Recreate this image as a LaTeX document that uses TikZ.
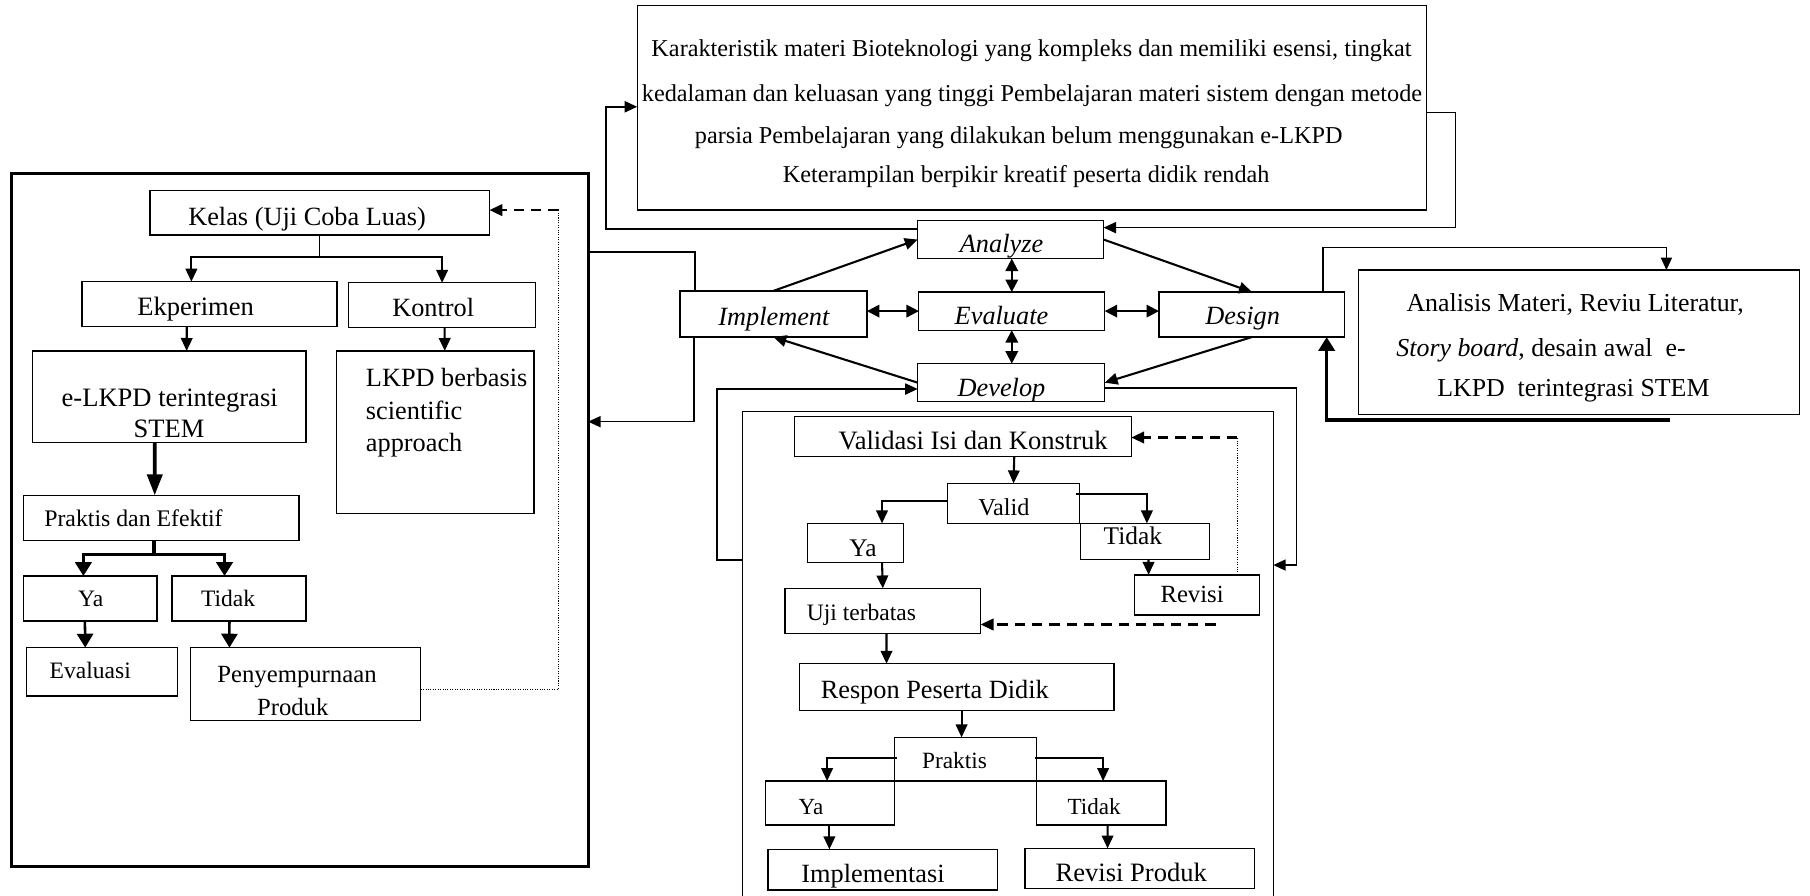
\documentclass[tikz,border=0pt]{standalone}
\usepackage{fontspec}
\setmainfont{Liberation Serif}
\usetikzlibrary{arrows.meta}
\newcommand\fsz[1]{\fontsize{#1pt}{#1pt}\selectfont}
\tikzset{
  box/.style={draw, line width=0.55pt, inner sep=0pt, outer sep=0pt},
  at box/.style n args={4}{minimum width={(#3-#1)*0.5pt}, minimum height={(#4-#2)*0.5pt}, at={({(#1+#3)/2},{(#2+#4)/2})}},
  tx/.style={inner sep=0pt, anchor=base},
  txl/.style={inner sep=0pt, anchor=base west},
  arr/.style={line width=0.9pt, -{Triangle[length=5.6pt,width=5pt]}},
  arrthin/.style={line width=0.65pt, -{Triangle[length=5.4pt,width=4.8pt]}},
  arrthick/.style={line width=1.5pt, -{Triangle[length=6pt,width=7pt]}},
  arrbig/.style={line width=1.6pt, -{Triangle[length=9pt,width=6.5pt]}},
  darr/.style={line width=0.9pt, {Triangle[length=5.4pt,width=5.4pt]}-{Triangle[length=5.4pt,width=5.4pt]}},
  thinln/.style={line width=0.55pt},
  medln/.style={line width=0.8pt},
  dotln/.style={line width=0.45pt, dash pattern=on 0.45pt off 0.6pt},
  dasharr/.style={line width=1pt, dash pattern=on 4.5pt off 3pt, -{Triangle[length=5.6pt,width=5pt]}},
}
\begin{document}
\begin{tikzpicture}[x=0.5pt,y=-0.5pt]
\useasboundingbox (0,0) rectangle (1568,776);
\fill[white] (0,0) rectangle (1568,776);
\clip (0,0) rectangle (1568,776);

% ---------------- left block ----------------
\node[box, line width=1.25pt, at box={10}{150}{509.5}{751}] (bigL) {};
\node[box, at box={130}{165}{424}{203.5}] (kelas) {};
\node[tx, font=\fsz{11.4}] (kelasT) at (266,195) {Kelas (Uji Coba Luas)};
\node[box, at box={71}{244}{292}{283}] (eksp) {};
\node[tx, font=\fsz{11.5}] (ekspT) at (169.5,273) {Ekperimen};
\node[box, at box={302}{245}{464}{284}] (kont) {};
\node[tx, font=\fsz{11.4}] (kontT) at (375.3,274.3) {Kontrol};
\node[box, at box={28}{304}{265}{383.5}] (elkpd) {};
\node[tx, font=\fsz{11.5}] (elkpdA) at (147,352.3) {e-LKPD terintegrasi};
\node[tx, font=\fsz{11.5}] (elkpdB) at (146.5,379.2) {STEM};
\node[box, at box={291.5}{304}{462.5}{445}] (lkpdb) {};
\node[txl, font=\fsz{11.4}] (lkpdbA) at (316.6,335) {LKPD berbasis};
\node[txl, font=\fsz{11.4}] (lkpdbB) at (316.6,363) {scientific};
\node[txl, font=\fsz{11.4}] (lkpdbC) at (316.6,391.3) {approach};
\node[box, at box={20.5}{429}{259}{468}] (prakef) {};
\node[txl, font=\fsz{10.3}] (prakefT) at (38,456.3) {Praktis dan Efektif};
\node[box, at box={20.5}{499}{136}{538}] (yaL) {};
\node[tx, font=\fsz{10.2}] (yaLT) at (78.6,525.6) {Ya};
\node[box, at box={149}{499}{265}{538}] (tidakL) {};
\node[tx, font=\fsz{10.2}] (tidakLT) at (197.6,525.6) {Tidak};
\node[box, at box={23}{561}{153.5}{603}] (evalu) {};
\node[tx, font=\fsz{10.2}] (evaluT) at (78.2,588.2) {Evaluasi};
\node[box, at box={165}{561}{364.5}{624}] (peny) {};
\node[tx, font=\fsz{10.7}] (penyA) at (257.3,591.1) {Penyempurnaan};
\node[tx, font=\fsz{10.7}] (penyB) at (253.6,619.4) {Produk};

% ---------------- centre ----------------
\node[box, at box={552}{5}{1236}{182}] (topbox) {};
\node[tx, font=\fsz{10.5}] (top1) at (893.6,49.1) {Karakteristik materi Bioteknologi yang kompleks dan memiliki esensi, tingkat};
\node[tx, font=\fsz{10.5}] (top2) at (894,88.1) {kedalaman dan keluasan yang tinggi Pembelajaran materi sistem dengan metode};
\node[tx, font=\fsz{10.5}] (top3) at (882.5,124.2) {parsia Pembelajaran yang dilakukan belum menggunakan e-LKPD};
\node[tx, font=\fsz{10.5}] (top4) at (889,158.3) {Keterampilan berpikir kreatif peserta didik rendah};

\node[box, at box={795}{191}{956}{224}] (analyze) {};
\node[tx, font=\fsz{11.4}\itshape] (analyzeT) at (867.6,219) {Analyze};
\node[box, at box={589}{252}{751}{292}] (impl) {};
\node[tx, font=\fsz{11.4}\itshape] (implT) at (670.4,281.6) {Implement};
\node[box, at box={796}{253}{957}{286}] (evaluate) {};
\node[tx, font=\fsz{11.4}\itshape] (evaluateT) at (867.6,281) {Evaluate};
\node[box, at box={1004}{253}{1165}{292}] (design) {};
\node[tx, font=\fsz{11.4}\itshape] (designT) at (1076.5,281) {Design};
\node[box, at box={795}{315}{957}{348}] (develop) {};
\node[tx, font=\fsz{11.4}\itshape] (developT) at (867.6,343.7) {Develop};

\node[box, at box={1177}{234}{1559}{359}] (rbox) {};
\node[tx, font=\fsz{11.2}] (rbox1) at (1364.5,270) {Analisis Materi, Reviu Literatur,};
\node[tx, font=\fsz{11.2}] (rbox2) at (1335,309) {\textit{Story board}, desain awal\ \ e-};
\node[tx, font=\fsz{11.2}] (rbox3) at (1363,343.6) {LKPD\ \ terintegrasi STEM};

% ---------------- develop block ----------------
\node[box, at box={643.5}{356.5}{1103}{800}] (devbox) {};
\node[box, at box={688.5}{360.5}{980}{395.5}] (validasi) {};
\node[tx, font=\fsz{11.5}] (validasiT) at (843,389.8) {Validasi Isi dan Konstruk};
\node[box, at box={821}{418.7}{935}{453.4}] (valid) {};
\node[tx, font=\fsz{10.5}] (validT) at (869.7,446.2) {Valid};
\node[box, at box={699.5}{453.4}{782.7}{487}] (yaD) {};
\node[tx, font=\fsz{11}] (yaDT) at (747.6,482.3) {Ya};
\node[box, at box={936}{453.4}{1047.5}{485}] (tidakD) {};
\node[tx, font=\fsz{11}] (tidakDT) at (981.4,472.1) {Tidak};
\node[box, at box={983}{498}{1091}{532.8}] (revisi) {};
\node[tx, font=\fsz{10.7}] (revisiT) at (1032.7,522.1) {Revisi};
\node[box, at box={680}{509.7}{849.5}{548.6}] (uji) {};
\node[tx, font=\fsz{10.2}] (ujiT) at (746.3,537.7) {Uji terbatas};
\node[box, at box={692.6}{575}{965}{615.7}] (respon) {};
\node[tx, font=\fsz{11.4}] (responT) at (809.8,605) {Respon Peserta Didik};
\node[box, at box={774.8}{638.8}{898.2}{676.6}] (praktis) {};
\node[tx, font=\fsz{10.1}] (praktisT) at (826.9,665.6) {Praktis};
\node[box, at box={663.4}{676.6}{774.8}{714.7}] (yaP) {};
\node[tx, font=\fsz{10}] (yaPT) at (702.6,705.5) {Ya};
\node[box, at box={898.2}{676.6}{1010}{714.7}] (tidakP) {};
\node[tx, font=\fsz{10}] (tidakPT) at (947.9,705.5) {Tidak};
\node[box, at box={665.4}{735.8}{864}{771}] (implP) {};
\node[tx, font=\fsz{11.4}] (implPT) at (756.3,764.4) {Implementasi};
\node[box, at box={888}{735}{1087}{769.8}] (revP) {};
\node[tx, font=\fsz{11.5}] (revPT) at (980,764) {Revisi Produk};

% ---------------- connectors: left ----------------
\draw[thinln] (kelas.south) -- ++(0,19.4) coordinate (kelasJ);
\draw[arr] (kelasJ) -| ([xshift=-7.85pt]eksp.north);
\draw[arr] (kelasJ) -| (kont.north);
\draw[arr] ([xshift=-9.85pt]eksp.south) -- ([xshift=7.6pt]elkpd.north);
\draw[arr] ([xshift=1.1pt]kont.south) -- ([xshift=4.15pt]lkpdb.north);
\draw[arrbig] ([xshift=-6.2pt]elkpd.south) -- ([xshift=-2.85pt]prakef.north);
\draw[line width=1.5pt] ([xshift=-3.2pt]prakef.south) -- ++(0,12.2) coordinate (prakJ);
\draw[arrthick] (prakJ) -| ([xshift=-3pt]yaL.north);
\draw[arrthick] (prakJ) -| ([xshift=-6.25pt]tidakL.north);
\draw[arrthick, line width=1.1pt] ([xshift=-2.35pt]yaL.south) -- ([xshift=-7.2pt]evalu.north);
\draw[arrthick, line width=1.1pt] ([xshift=-4.1pt]tidakL.south) -- ([xshift=-33pt]peny.north);
\coordinate (pkTop) at (484,182);
\draw[dotln] ([yshift=-2.2pt]peny.east) -| (pkTop);
\draw[dasharr] (pkTop) -- (kelas.east |- pkTop);

% ---------------- connectors: centre ----------------
\draw[arrthin, line width=0.8pt] ([yshift=4.4pt]analyze.west) -- ++(-270,0) |- ([yshift=0.5pt]topbox.west);
\draw[arrthin] ([yshift=-2pt]topbox.east) -- ++(25,0) |- ([yshift=5.15pt]analyze.east);
\draw[arr] (impl.north) -- (analyze.west);
\draw[arr] (analyze.east) -- (design.north);
\draw[arr] (design.south) -- (develop.east);
\draw[arr] (develop.west) -- (impl.south);
\draw[darr] ([xshift=0.5pt]analyze.south) -- (evaluate.north);
\draw[darr] (evaluate.south) -- ([xshift=0.25pt]develop.north);
\draw[darr] ([yshift=1.25pt]impl.east) -- (evaluate.west);
\draw[darr] (evaluate.east) -- ([yshift=1.5pt]design.west);
\draw[medln] ([xshift=-34pt]impl.north) -- ++(0,-33.4) coordinate (implUp) -- (bigL.east |- implUp);
\draw[arrthin] ([xshift=-34.5pt]impl.south) -- ++(0,73.3) coordinate (implDn) -- (bigL.east |- implDn);
\draw[arrthin] ([xshift=30.75pt]design.north) -- ++(0,-38.4) -| ([xshift=37.8pt]rbox.north);
\draw[arrthick] ([xshift=39.25pt,yshift=-2.45pt]rbox.south) -| ([xshift=32.4pt]design.south);
\draw[arrthin] ([yshift=-64.25pt]devbox.north west) -- ++(-22.5,0) |- ([yshift=-2.75pt]develop.west);
\draw[arrthin] ([yshift=-2.25pt]develop.east) -- ++(166,0) |- ([yshift=-66.5pt]devbox.north east);

% ---------------- connectors: develop ----------------
\draw[arr] ([xshift=22.2pt]validasi.south) -- (valid.north);
\draw[arr] ([yshift=1.1pt]valid.west) -| ([xshift=11.5pt]yaD.north);
\draw[arr] ([yshift=4pt,xshift=-1.5pt]valid.east) -| ([xshift=0.9pt]tidakD.north);
\draw[arr] ([xshift=1.6pt]tidakD.south) -- ([xshift=-21pt]revisi.north);
\draw[arr] ([xshift=11.5pt]yaD.south) -- (uji.north);
\coordinate (rvTop) at (1072,379);
\draw[dotln] ([xshift=17.5pt]revisi.north) -- (rvTop);
\draw[dasharr] (rvTop) -- (validasi.east |- rvTop);
\coordinate (ujiDash) at (1053,541);
\draw[dasharr] (ujiDash) -- (uji.east |- ujiDash);
\draw[arr] ([xshift=1.6pt]uji.south) -- ([xshift=-30.4pt]respon.north);
\draw[arr] ([xshift=2.1pt]respon.south) -- ([xshift=-1.75pt]praktis.north);
\draw[arr] ([yshift=0.65pt,xshift=1pt]praktis.west) -| ([xshift=-1.3pt]yaP.north);
\draw[arr] ([yshift=0.65pt,xshift=-1pt]praktis.east) -| ([xshift=0.75pt]tidakP.north);
\draw[arr] ([xshift=-0.3pt]yaP.south) -- ([xshift=-23.1pt]implP.north);
\draw[arr] ([xshift=2.7pt]tidakP.south) -- ([xshift=-14pt]revP.north);
\end{tikzpicture}
\end{document}
